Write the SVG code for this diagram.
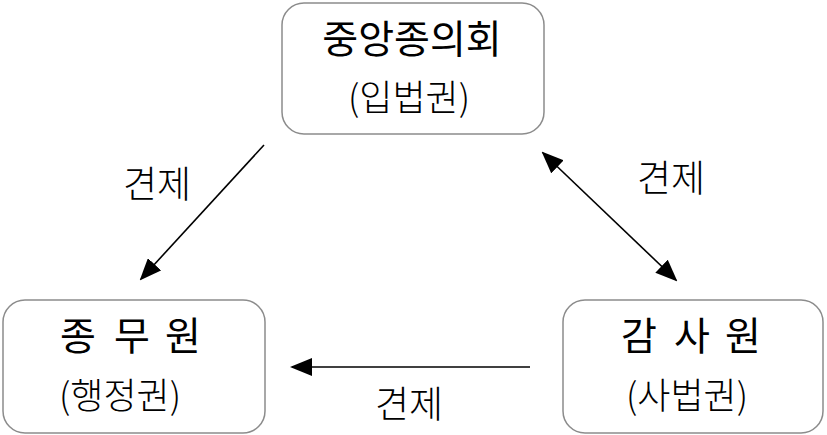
<svg xmlns="http://www.w3.org/2000/svg" width="827" height="435" viewBox="0 0 827 435">
<defs>
<style>
.box{fill:#fff;stroke:#8c8c8c;stroke-width:1.5}
.t{font-family:"Noto Sans CJK KR","Noto Sans",sans-serif;fill:#000;text-anchor:middle}
.h{font-size:39px;font-weight:400}
.s{font-size:36px;font-weight:300}
.l{font-size:37px;font-weight:300}
.c{stroke:#000;stroke-width:1.6;fill:none}
</style>
<marker id="ah" markerWidth="22" markerHeight="18" refX="20" refY="9" orient="auto" markerUnits="userSpaceOnUse">
<path d="M0,0 L22,9 L0,18 Z" fill="#000"/>
</marker>
<marker id="as" markerWidth="22" markerHeight="18" refX="2" refY="9" orient="auto" markerUnits="userSpaceOnUse">
<path d="M22,0 L0,9 L22,18 Z" fill="#000"/>
</marker>
</defs>
<rect width="827" height="435" fill="#fff"/>
<g id="node-council">
<rect class="box" x="282" y="3" width="262" height="131" rx="22"/>
<text class="t h" x="412" y="53">중앙종의회</text>
<text class="t s" x="409" y="111">(입법권)</text>
</g>
<g id="node-admin">
<rect class="box" x="3" y="300" width="262" height="133" rx="22"/>
<text class="t h" y="350"><tspan x="78">종</tspan><tspan x="132">무</tspan><tspan x="183">원</tspan></text>
<text class="t s" x="120" y="409">(행정권)</text>
</g>
<g id="node-audit">
<rect class="box" x="563" y="300" width="260" height="133" rx="22"/>
<text class="t h" y="350"><tspan x="639">감</tspan><tspan x="692">사</tspan><tspan x="743">원</tspan></text>
<text class="t s" x="687" y="409">(사법권)</text>
</g>
<g id="connectors">
<line class="c" x1="264" y1="145" x2="141" y2="279" marker-end="url(#ah)"/>
<line class="c" x1="543" y1="153" x2="676" y2="280" marker-start="url(#as)" marker-end="url(#ah)"/>
<line class="c" x1="530" y1="367" x2="292" y2="367" marker-end="url(#ah)"/>
<text class="t l" x="157" y="198">견제</text>
<text class="t l" x="671" y="192">견제</text>
<text class="t l" x="409" y="418">견제</text>
</g>
</svg>
